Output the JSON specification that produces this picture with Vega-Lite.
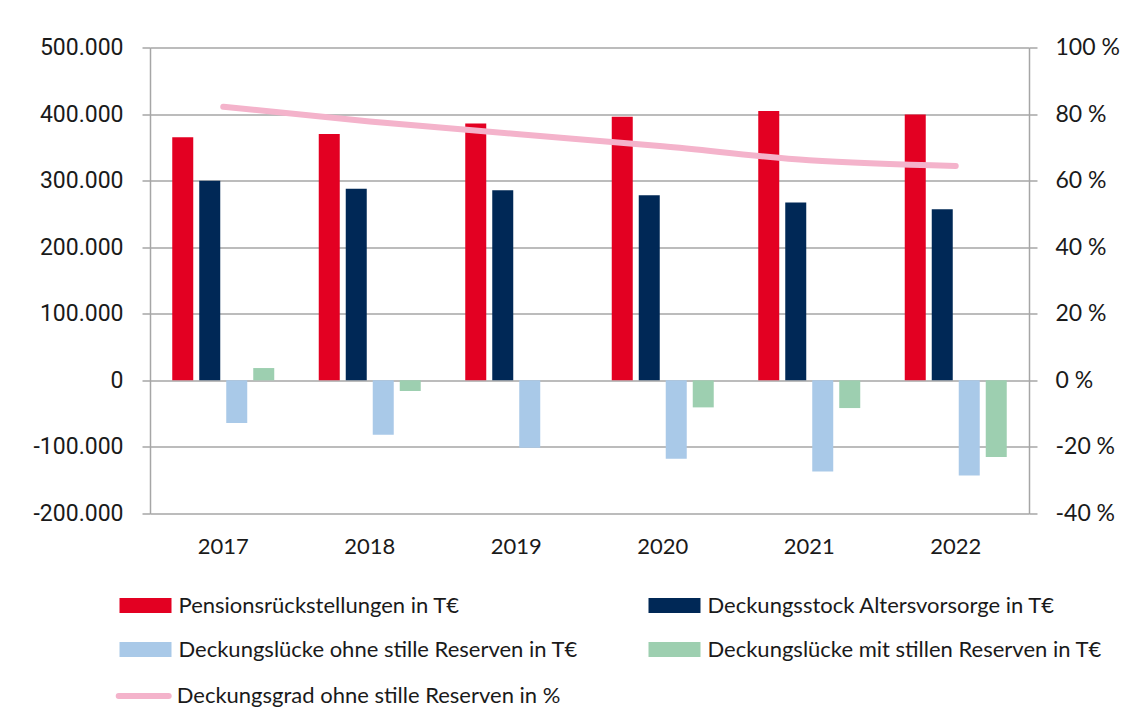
{
  "$schema": "https://vega.github.io/schema/vega-lite/v6.json",
  "width": 879,
  "height": 466,
  "autosize": {"type": "none"},
  "padding": {"left": 150, "top": 47.5, "right": 109, "bottom": 205.5},
  "background": "white",
  "config": {
    "locale": {"number": {"decimal": ",", "thousands": ".", "grouping": [3], "currency": ["", " €"], "minus": "-"}},
    "view": {"stroke": null},
    "axis": {"gridColor": "#a6a6a6", "gridWidth": 1.5, "domainColor": "#a6a6a6", "domainWidth": 1.5, "tickColor": "#a6a6a6", "tickWidth": 1.5, "labelColor": "#1a1a1a", "title": null}
  },
  "datasets": {
    "bars": [
      {"Jahr": "2017", "Reihe": "Pensionsrückstellungen in T€", "Wert": 365000},
      {"Jahr": "2017", "Reihe": "Deckungsstock Altersvorsorge in T€", "Wert": 300000},
      {"Jahr": "2017", "Reihe": "Deckungslücke ohne stille Reserven in T€", "Wert": -64200},
      {"Jahr": "2017", "Reihe": "Deckungslücke mit stillen Reserven in T€", "Wert": 18500},
      {"Jahr": "2018", "Reihe": "Pensionsrückstellungen in T€", "Wert": 370000},
      {"Jahr": "2018", "Reihe": "Deckungsstock Altersvorsorge in T€", "Wert": 287700},
      {"Jahr": "2018", "Reihe": "Deckungslücke ohne stille Reserven in T€", "Wert": -81700},
      {"Jahr": "2018", "Reihe": "Deckungslücke mit stillen Reserven in T€", "Wert": -16100},
      {"Jahr": "2019", "Reihe": "Pensionsrückstellungen in T€", "Wert": 386000},
      {"Jahr": "2019", "Reihe": "Deckungsstock Altersvorsorge in T€", "Wert": 285700},
      {"Jahr": "2019", "Reihe": "Deckungslücke ohne stille Reserven in T€", "Wert": -101300},
      {"Jahr": "2019", "Reihe": "Deckungslücke mit stillen Reserven in T€", "Wert": 0},
      {"Jahr": "2020", "Reihe": "Pensionsrückstellungen in T€", "Wert": 396000},
      {"Jahr": "2020", "Reihe": "Deckungsstock Altersvorsorge in T€", "Wert": 278200},
      {"Jahr": "2020", "Reihe": "Deckungslücke ohne stille Reserven in T€", "Wert": -117900},
      {"Jahr": "2020", "Reihe": "Deckungslücke mit stillen Reserven in T€", "Wert": -40600},
      {"Jahr": "2021", "Reihe": "Pensionsrückstellungen in T€", "Wert": 404500},
      {"Jahr": "2021", "Reihe": "Deckungsstock Altersvorsorge in T€", "Wert": 267200},
      {"Jahr": "2021", "Reihe": "Deckungslücke ohne stille Reserven in T€", "Wert": -136800},
      {"Jahr": "2021", "Reihe": "Deckungslücke mit stillen Reserven in T€", "Wert": -41600},
      {"Jahr": "2022", "Reihe": "Pensionsrückstellungen in T€", "Wert": 399500},
      {"Jahr": "2022", "Reihe": "Deckungsstock Altersvorsorge in T€", "Wert": 257100},
      {"Jahr": "2022", "Reihe": "Deckungslücke ohne stille Reserven in T€", "Wert": -142900},
      {"Jahr": "2022", "Reihe": "Deckungslücke mit stillen Reserven in T€", "Wert": -115300}
    ],
    "linie": [
      {"Jahr": "2017", "Deckungsgrad": 82.2},
      {"Jahr": "2018", "Deckungsgrad": 77.8},
      {"Jahr": "2019", "Deckungsgrad": 74.0},
      {"Jahr": "2020", "Deckungsgrad": 70.3},
      {"Jahr": "2021", "Deckungsgrad": 66.1},
      {"Jahr": "2022", "Deckungsgrad": 64.4}
    ]
  },
  "layer": [
    {
      "data": {"name": "bars"},
      "mark": {"type": "bar"},
      "encoding": {
        "x": {
          "field": "Jahr", "type": "nominal",
          "scale": {"paddingInner": 0.3038, "paddingOuter": 0.1519},
          "axis": {"labelAngle": 0, "domain": false, "ticks": false, "labelPadding": 23, "labelFont": "Lato", "labelFontSize": 22}
        },
        "xOffset": {
          "field": "Reihe", "type": "nominal",
          "sort": ["Pensionsrückstellungen in T€", "Deckungsstock Altersvorsorge in T€", "Deckungslücke ohne stille Reserven in T€", "Deckungslücke mit stillen Reserven in T€"],
          "scale": {"paddingInner": 0.2222, "paddingOuter": 0}
        },
        "y": {
          "field": "Wert", "type": "quantitative",
          "scale": {"domain": [-200000, 500000], "nice": false},
          "axis": {"values": [-200000, -100000, 0, 100000, 200000, 300000, 400000, 500000], "format": ",d", "grid": true, "tickSize": 8, "labelPadding": 19, "labelFont": "Roboto", "labelFontSize": 23}
        },
        "fill": {
          "field": "Reihe", "type": "nominal",
          "scale": {
            "domain": ["Pensionsrückstellungen in T€", "Deckungsstock Altersvorsorge in T€", "Deckungslücke ohne stille Reserven in T€", "Deckungslücke mit stillen Reserven in T€"],
            "range": ["#e30022", "#002856", "#a9c9e8", "#9dcfb0"]
          },
          "legend": {
            "title": null, "orient": "none", "legendX": -15.5, "legendY": 547,
            "columns": 2, "direction": "horizontal",
            "symbolType": "M-3.467,-1H3.467V1H-3.467Z", "symbolSize": 225, "symbolStrokeWidth": 0, "symbolOpacity": 1,
            "labelFont": "Lato", "labelFontSize": 22, "labelColor": "#1a1a1a", "labelOffset": 22, "labelLimit": 700,
            "rowPadding": 22, "columnPadding": 69, "padding": 0
          }
        }
      }
    },
    {
      "data": {"name": "linie"},
      "mark": {"type": "line", "strokeWidth": 6, "strokeCap": "round", "interpolate": "monotone"},
      "encoding": {
        "x": {"field": "Jahr", "type": "nominal"},
        "y": {
          "field": "Deckungsgrad", "type": "quantitative",
          "scale": {"domain": [-40, 100], "nice": false},
          "axis": {"orient": "right", "values": [-40, -20, 0, 20, 40, 60, 80, 100], "grid": false, "labelExpr": "datum.value + ' %'", "tickSize": 8, "labelPadding": 18, "labelFont": "Lato", "labelFontSize": 23}
        },
        "stroke": {
          "datum": "Deckungsgrad ohne stille Reserven in %", "type": "nominal",
          "scale": {"range": ["#f4b3cb"]},
          "legend": {
            "title": null, "orient": "none", "legendX": -34.3, "legendY": 620.5,
            "symbolType": "stroke", "symbolSize": 2500, "symbolStrokeWidth": 6,
            "labelFont": "Lato", "labelFontSize": 22, "labelColor": "#1a1a1a", "labelOffset": 5, "labelLimit": 700, "padding": 0,
            "encode": {"symbols": {"update": {"strokeCap": {"value": "round"}}}}
          }
        }
      }
    }
  ],
  "resolve": {"scale": {"y": "independent"}}
}
